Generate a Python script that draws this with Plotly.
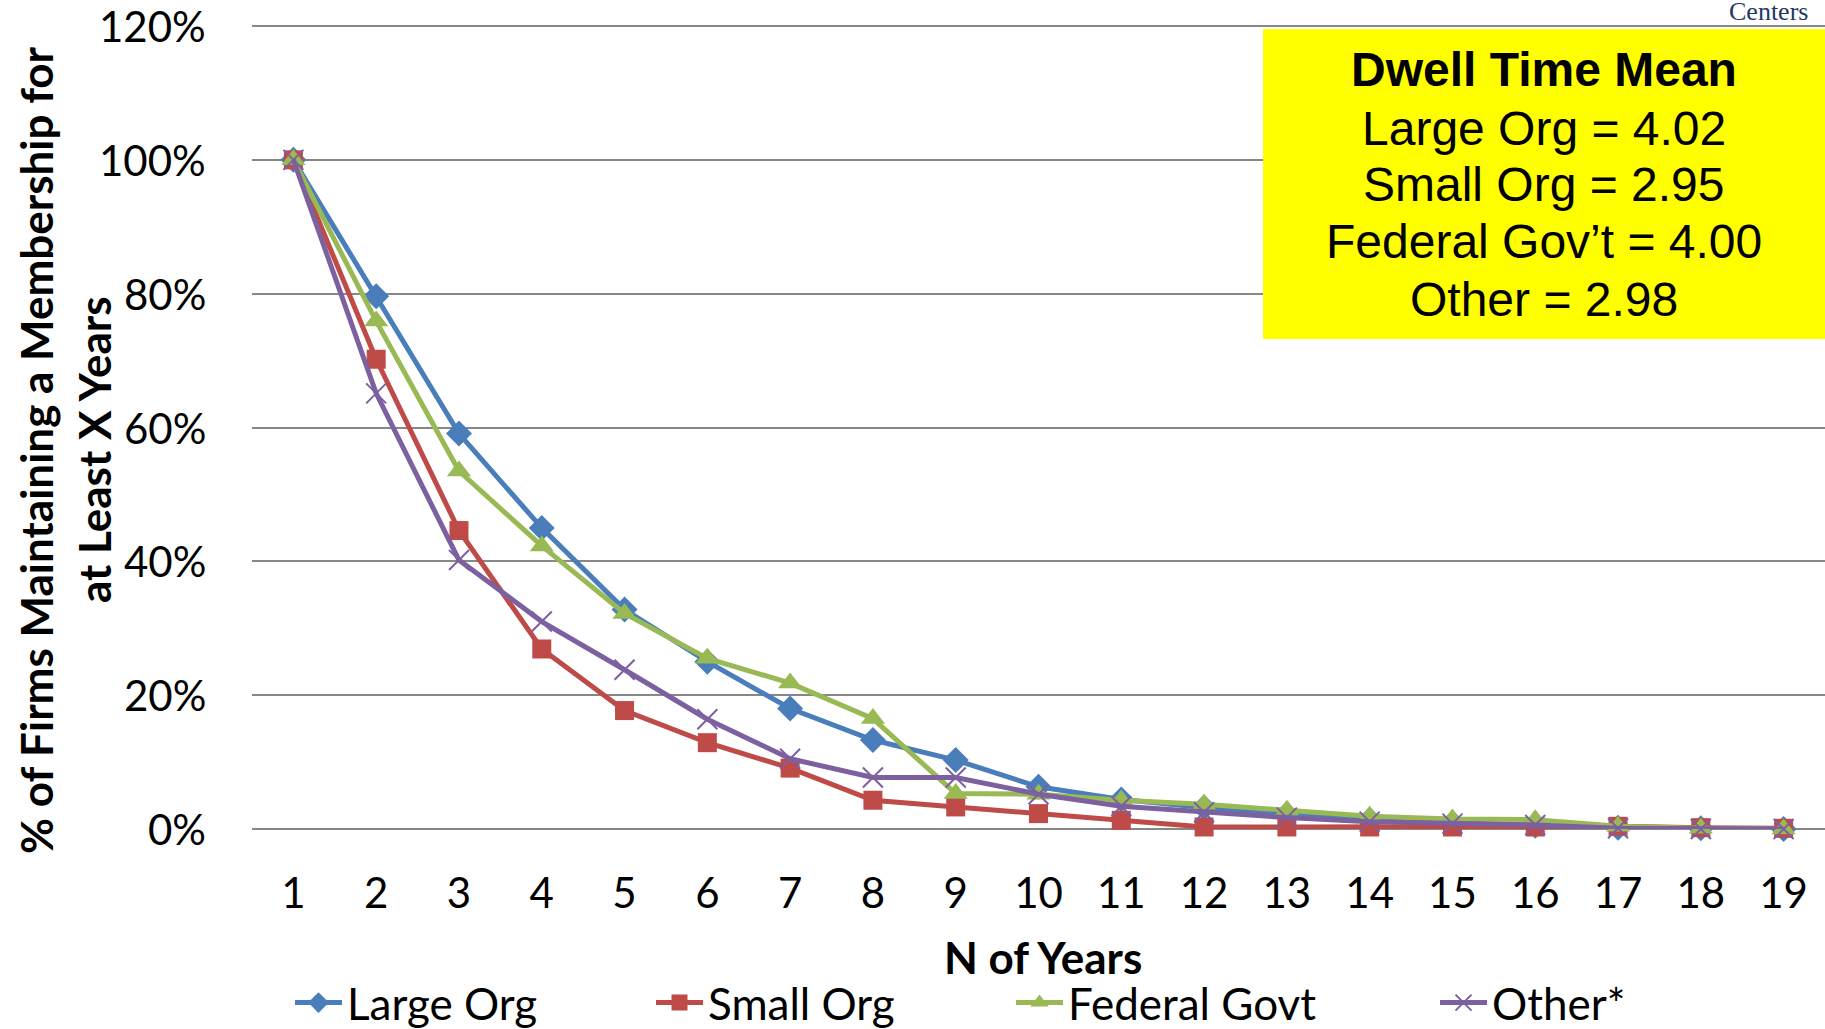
import plotly.graph_objects as go

# ---- data ----
years = list(range(1, 20))
large_org = [100, 79.6, 59.1, 45.0, 32.8, 25.0, 18.0, 13.3, 10.3, 6.3, 4.4, 3.2, 2.2, 1.4, 0.9, 0.5, 0.2, 0.1, 0.0]
small_org = [100, 70.2, 44.6, 26.9, 17.7, 12.9, 9.1, 4.3, 3.3, 2.3, 1.3, 0.3, 0.3, 0.3, 0.3, 0.3, 0.4, 0.2, 0.1]
federal_govt = [100, 75.9, 53.5, 42.3, 32.2, 25.5, 21.8, 16.5, 5.3, 5.2, 4.3, 3.7, 2.8, 1.9, 1.5, 1.4, 0.4, 0.1, 0.0]
other = [100, 65.1, 40.2, 31.0, 23.8, 16.4, 10.5, 7.7, 7.7, 5.2, 3.4, 2.5, 1.7, 1.1, 0.8, 0.6, 0.1, 0.0, 0.0]
series_names = ["Large Org", "Small Org", "Federal Govt", "Other*"]
y_ticks = [0, 20, 40, 60, 80, 100, 120]
y_tick_labels = ["0%", "20%", "40%", "60%", "80%", "100%", "120%"]
box_title = "Dwell Time Mean"
box_lines = ["Large Org = 4.02", "Small Org = 2.95", "Federal Gov\u2019t = 4.00", "Other = 2.98"]

W, H = 1825, 1029
Y_MAX = 120.3
L, R, B = 252, 0, 200
T = 26 - round((Y_MAX - 120) * (803 / 120))
PW, PH = W - L - R, H - T - B


def px_x(px):
    return (px - L) / PW


def px_y(py):
    return (H - B - py) / PH


FONT = "Lato"
colors = ["#4A7EBB", "#BE4B48", "#98B954", "#7D60A0"]
symbols = ["diamond", "square", "triangle-up", "x-thin"]
sizes = [20, 19, 21, 20]
series = [large_org, small_org, federal_govt, other]
legend_ids = ["legend", "legend2", "legend3", "legend4"]

fig = go.Figure()
for name, vals, c, s, sz, lg in zip(series_names, series, colors, symbols, sizes, legend_ids):
    marker = dict(symbol=s, size=sz, color=c)
    if s == "x-thin":
        marker["line"] = dict(width=2, color=c)
    fig.add_trace(go.Scatter(
        x=years, y=vals, name=name, mode="lines+markers",
        line=dict(color=c, width=5), marker=marker,
        cliponaxis=False, legend=lg,
    ))

legend_x_px = [290, 651, 1011, 1435]
legend_common = dict(orientation="h", yanchor="middle", xanchor="left", y=px_y(1003),
                     font=dict(family=FONT, size=44, color="black"),
                     bgcolor="rgba(0,0,0,0)", itemwidth=47)

annotations = []
# y tick labels
for v, lab in zip(y_ticks, y_tick_labels):
    annotations.append(dict(text=lab, x=px_x(208), y=v, xref="paper", yref="y",
                            xanchor="right", yanchor="middle", showarrow=False,
                            font=dict(family=FONT, size=42, color="black")))
# y-axis title, two lines
annotations.append(dict(text="<b>% of Firms Maintaining a Membership for</b>", textangle=-90,
                        x=px_x(36), y=px_y(450), xref="paper", yref="paper",
                        xanchor="center", yanchor="middle", showarrow=False,
                        font=dict(family=FONT, size=44, color="black")))
annotations.append(dict(text="<b>at Least X Years</b>", textangle=-90,
                        x=px_x(94), y=px_y(450), xref="paper", yref="paper",
                        xanchor="center", yanchor="middle", showarrow=False,
                        font=dict(family=FONT, size=44, color="black")))
# x-axis title
annotations.append(dict(text="<b>N of Years</b>", x=px_x(1043), y=px_y(957), xref="paper", yref="paper",
                        xanchor="center", yanchor="middle", showarrow=False,
                        font=dict(family=FONT, size=44, color="black")))
# box text
box_y = [69, 128, 185, 241, 299]
annotations.append(dict(text="<b>" + box_title + "</b>", x=px_x(1544), y=px_y(box_y[0]),
                        xref="paper", yref="paper", xanchor="center", yanchor="middle", showarrow=False,
                        font=dict(family="Liberation Sans", size=48, color="black")))
for t, yy in zip(box_lines, box_y[1:]):
    annotations.append(dict(text=t, x=px_x(1544), y=px_y(yy),
                            xref="paper", yref="paper", xanchor="center", yanchor="middle", showarrow=False,
                            font=dict(family="Liberation Sans", size=48, color="black")))
# "Centers" fragment
annotations.append(dict(text="Centers", x=px_x(1810), y=px_y(28), xref="paper", yref="paper",
                        xanchor="right", yanchor="bottom", showarrow=False,
                        font=dict(family="Liberation Serif", size=26, color="#1F3864")))

layout = dict(
    width=W, height=H,
    margin=dict(l=L, r=R, t=T, b=B, pad=0, autoexpand=False),
    paper_bgcolor="white", plot_bgcolor="white",
    showlegend=True,
    xaxis=dict(range=[0.5, 19.5], tickvals=years, ticktext=[str(v) for v in years],
               showgrid=False, zeroline=False, showline=False, ticks="", automargin=False,
               tickfont=dict(family=FONT, size=42, color="black"), ticklabelstandoff=36),
    yaxis=dict(range=[0, Y_MAX], tickvals=y_ticks, showticklabels=False,
               showgrid=True, gridcolor="#878787", gridwidth=2,
               zeroline=True, zerolinecolor="#878787", zerolinewidth=2,
               showline=False, ticks="", automargin=False),
    shapes=[dict(type="rect", xref="paper", yref="paper",
                 x0=px_x(1263), x1=1.0, y0=px_y(339), y1=px_y(29),
                 fillcolor="#FFFF00", line=dict(width=0), layer="above")],
    annotations=annotations,
)
for lg, xp in zip(legend_ids, legend_x_px):
    layout[lg] = dict(legend_common, x=px_x(xp))

fig.update_layout(**layout)
fig.write_html("out.html")
